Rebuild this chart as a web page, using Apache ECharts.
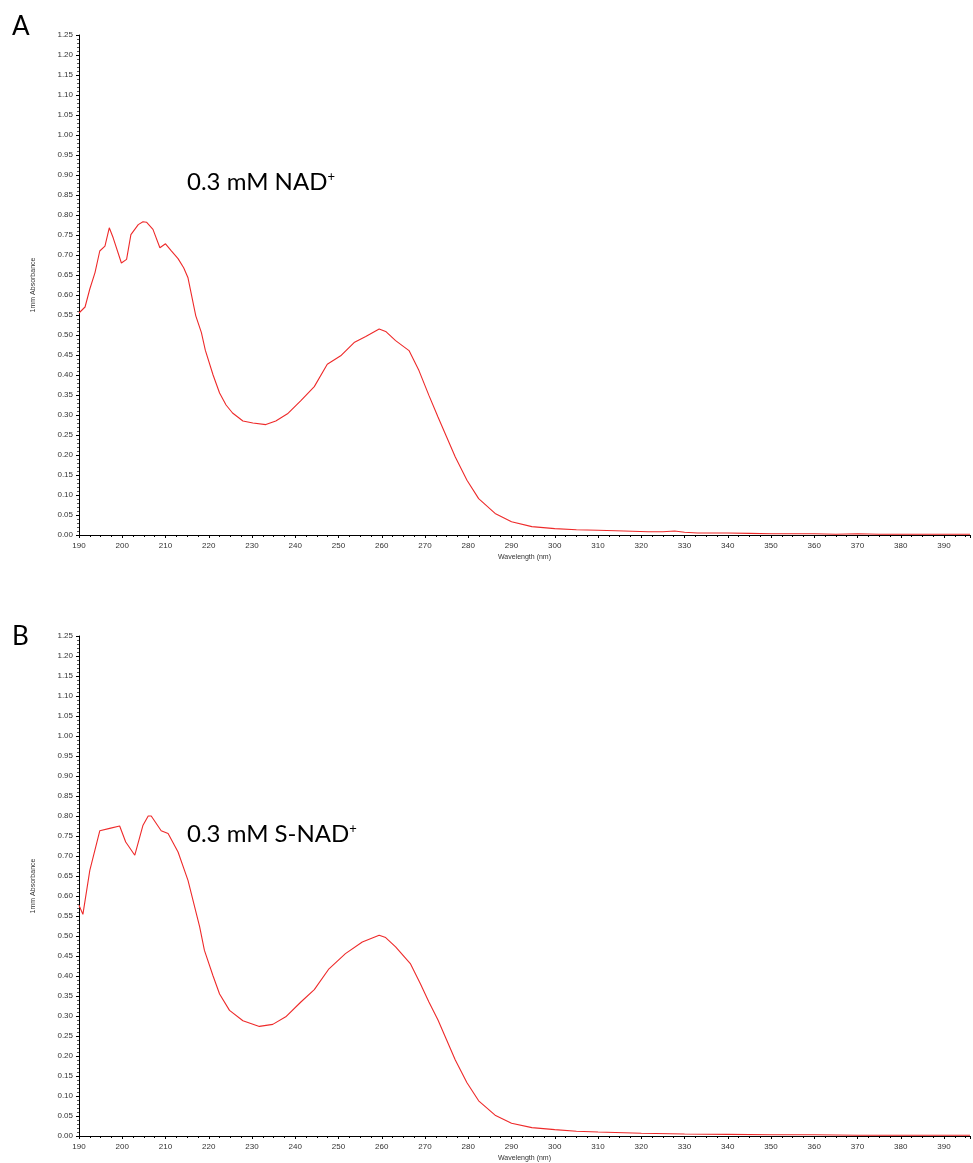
<!DOCTYPE html>
<html>
<head>
<meta charset="utf-8">
<script src="https://cdn.jsdelivr.net/npm/echarts@6/dist/echarts.min.js"></script>
<style>
  html, body { margin: 0; padding: 0; background: #fff; }
  #chart { width: 973px; height: 1163px; }
</style>
</head>
<body>
<div id="chart"></div>
<script>
// Panel A: 0.3 mM NAD+
var nadWl = [190, 191.4, 192.5, 193.7, 194.8, 196, 197, 197.9, 199.8, 201, 202, 203.7, 204.8, 205.6, 207.1,
  208.7, 210, 211.3, 212.9, 214.2, 215.2, 217, 218.3, 219.2, 221, 222.5, 224, 225.5, 227.9, 230.2,
  233.2, 235.5, 238.2, 241.3, 244.4, 247.4, 250.5, 253.6, 256.3, 259.4, 260.9, 263.2, 266.3, 268.6, 270.9,
  273, 275, 277, 279.7, 282.4, 286.2, 290, 294.7, 300, 305, 310, 316, 321.6, 325, 327.7,
  330, 333, 340, 345, 350, 355, 360, 365, 370, 375, 380, 385, 390, 396];
var nadAbs = [0.555, 0.57, 0.615, 0.656, 0.71, 0.722, 0.768, 0.743, 0.68, 0.689, 0.751, 0.776, 0.783, 0.782, 0.764,
  0.718, 0.728, 0.711, 0.691, 0.668, 0.643, 0.548, 0.506, 0.462, 0.40, 0.355, 0.325, 0.305, 0.285, 0.280,
  0.276, 0.285, 0.303, 0.336, 0.371, 0.427, 0.448, 0.481, 0.496, 0.515, 0.509, 0.486, 0.461, 0.411, 0.349,
  0.295, 0.245, 0.195, 0.137, 0.091, 0.054, 0.033, 0.021, 0.016, 0.013, 0.012, 0.010, 0.008, 0.008, 0.010,
  0.007, 0.005, 0.005, 0.004, 0.003, 0.003, 0.003, 0.002, 0.003, 0.002, 0.002, 0.002, 0.002, 0.002];

// Panel B: 0.3 mM S-NAD+
var snadWl = [190, 190.9, 192.5, 194.8, 197.1, 199.4, 199.8, 200.8, 202.9, 204.8, 206, 206.7, 209, 210.6, 212.9,
  215.2, 217.9, 219, 221, 222.5, 224.8, 227.9, 231.7, 234.8, 237.8, 241.3, 244.4, 247.8, 251.6, 255.5,
  259.4, 260.9, 263.2, 266.6, 268.9, 270.9, 273, 275, 277, 279.7, 282.4, 286.2, 290, 294.7, 300,
  305, 310, 320, 330, 340, 350, 360, 370, 380, 390, 396];
var snadAbs = [0.577, 0.554, 0.664, 0.763, 0.769, 0.775, 0.774, 0.735, 0.702, 0.777, 0.80, 0.80, 0.763, 0.756, 0.71,
  0.639, 0.523, 0.464, 0.40, 0.355, 0.314, 0.288, 0.274, 0.279, 0.298, 0.335, 0.366, 0.418, 0.456, 0.485,
  0.502, 0.496, 0.473, 0.431, 0.381, 0.335, 0.29, 0.24, 0.19, 0.133, 0.088, 0.052, 0.032, 0.021, 0.016,
  0.012, 0.010, 0.007, 0.005, 0.004, 0.003, 0.003, 0.002, 0.002, 0.002, 0.002];

var panelLetters = ['A', 'B'];
var panelTitles = ['0.3 mM NAD', '0.3 mM S-NAD'];
var xName = 'Wavelength (nm)';
var yName = '1mm Absorbance';

function pairs(xs, ys) {
  return xs.map(function (x, i) { return [x, ys[i]]; });
}

var tickFont = { color: '#333', fontSize: 8, fontFamily: 'Liberation Sans' };
var lineColor = '#ee2a2a';

function xAxisFor(idx) {
  return {
    type: 'value', gridIndex: idx, min: 190, max: 396, interval: 10,
    name: xName, nameLocation: 'middle', nameGap: 19,
    nameTextStyle: { color: '#333', fontSize: 7, fontFamily: 'Liberation Sans' },
    axisLine: { show: true, onZero: false, lineStyle: { color: '#000', width: 1 } },
    axisTick: { show: true, length: 3, lineStyle: { color: '#000' } },
    minorTick: { show: true, splitNumber: 4, length: 2, lineStyle: { color: '#000' } },
    axisLabel: Object.assign({ margin: 7, formatter: function (v) { return v % 10 === 0 ? String(v) : ''; } }, tickFont),
    splitLine: { show: false }
  };
}

function yAxisFor(idx) {
  return {
    type: 'value', gridIndex: idx, min: 0, max: 1.25, interval: 0.05,
    name: yName, nameLocation: 'middle', nameGap: 42, nameRotate: 90,
    nameTextStyle: { color: '#333', fontSize: 7, fontFamily: 'Liberation Sans' },
    axisLine: { show: true, lineStyle: { color: '#000', width: 1 } },
    axisTick: { show: true, length: 3, lineStyle: { color: '#000' } },
    minorTick: { show: true, splitNumber: 5, length: 2, lineStyle: { color: '#555' } },
    axisLabel: Object.assign({ margin: 6, formatter: function (v) { return v.toFixed(2); } }, tickFont),
    splitLine: { show: false }
  };
}

function titleText(i, top) {
  return {
    type: 'text', left: 187, top: top,
    style: {
      text: '{a|' + panelTitles[i] + '}{s|+}',
      rich: {
        a: { fontSize: 24, fontFamily: 'Lato', fill: '#000' },
        s: { fontSize: 13, fontFamily: 'Lato', fill: '#000', verticalAlign: 'top', padding: [0, 0, 10, 0] }
      }
    }
  };
}

var chart = echarts.init(document.getElementById('chart'), null, { renderer: 'canvas' });
chart.setOption({
  animation: false,
  backgroundColor: '#fff',
  grid: [
    { left: 79, top: 35, width: 893, height: 500 },
    { left: 79, top: 636, width: 893, height: 500 }
  ],
  xAxis: [xAxisFor(0), xAxisFor(1)],
  yAxis: [yAxisFor(0), yAxisFor(1)],
  series: [
    { type: 'line', xAxisIndex: 0, yAxisIndex: 0, data: pairs(nadWl, nadAbs),
      showSymbol: false, lineStyle: { color: lineColor, width: 1.1 } },
    { type: 'line', xAxisIndex: 1, yAxisIndex: 1, data: pairs(snadWl, snadAbs),
      showSymbol: false, lineStyle: { color: lineColor, width: 1.1 } }
  ],
  graphic: [
    { type: 'text', left: 12, top: 14, style: { text: panelLetters[0], fontSize: 26, fontFamily: 'Lato', fill: '#000' } },
    { type: 'text', left: 12, top: 624, style: { text: panelLetters[1], fontSize: 26, fontFamily: 'Lato', fill: '#000' } },
    titleText(0, 170),
    titleText(1, 822)
  ]
});
</script>
</body>
</html>
